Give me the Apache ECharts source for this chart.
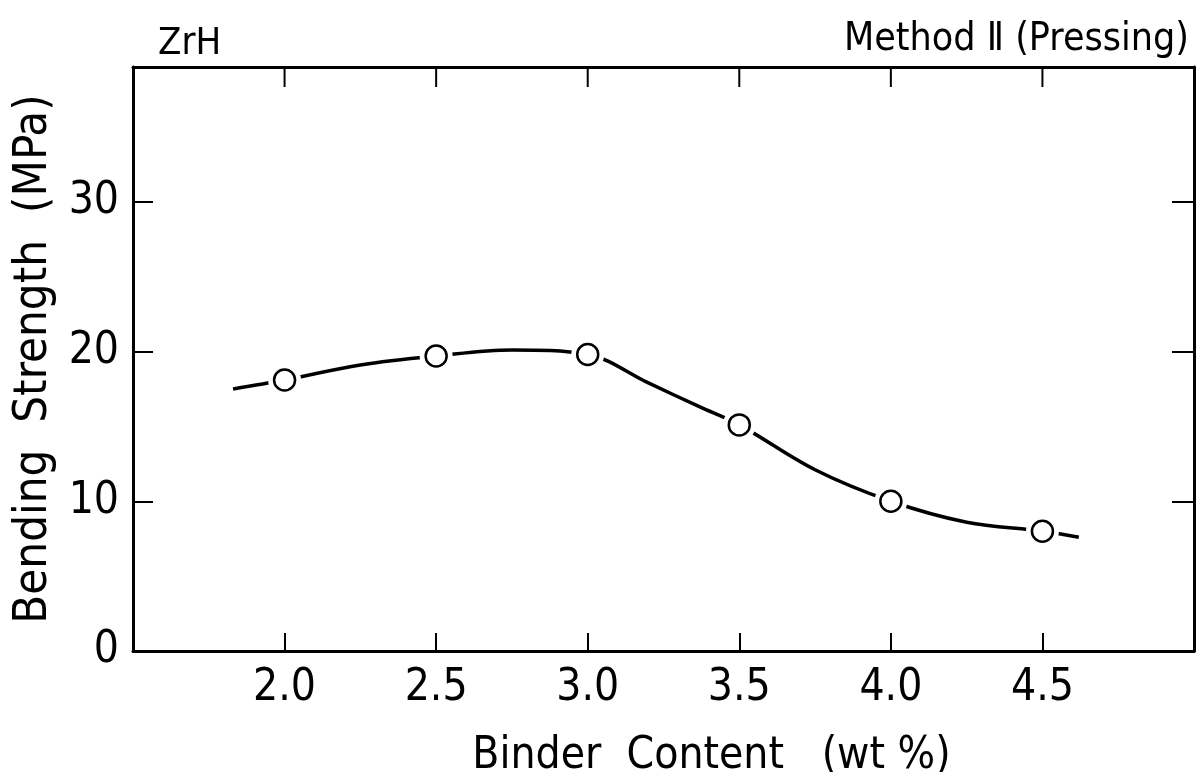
<!DOCTYPE html>
<html>
<head>
<meta charset="utf-8">
<style>
  html, body { margin: 0; padding: 0; background: #fff; }
  #main { width: 1198px; height: 772px; }
</style>
<script src="https://cdn.jsdelivr.net/npm/echarts@6/dist/echarts.min.js"></script>
</head>
<body>
<div id="main"></div>
<script>
var FONT = "'Liberation Sans Narrow', 'DejaVu Sans Condensed', sans-serif";

// measured points (binder content wt%, bending strength MPa)
var binder = [2.0, 2.5, 3.0, 3.5, 4.0, 4.5];
var strength = [18.1, 19.7, 19.8, 15.1, 10.0, 8.0];

// hand-drawn fitted curve
var curveX = [1.83, 2.0, 2.25, 2.5, 2.75, 3.0, 3.2, 3.37, 3.5, 3.75, 4.0, 4.25, 4.5, 4.62];
var curveY = [17.5, 18.1, 19.1, 19.7, 20.1, 19.8, 17.9, 16.3, 15.1, 12.1, 10.0, 8.6, 8.0, 7.6];

var xTicks = [2.0, 2.5, 3.0, 3.5, 4.0, 4.5];
var yLabels = [0, 10, 20, 30];
var yTicks = [10, 20, 30];

var Y_MAX = 39;

var chartDom = document.getElementById('main');
var myChart = echarts.init(chartDom);
var option;

var points = binder.map(function (x, i) { return [x, strength[i]]; });
var curve = curveX.map(function (x, i) { return [x, curveY[i]]; });
// tick positions along the top frame
var topTickPos = xTicks.map(function (x) { return [x, Y_MAX]; });

var axisLine = { show: true, onZero: false, lineStyle: { color: '#000', width: 3 } };

option = {
  backgroundColor: '#fff',
  animation: false,
  grid: { left: 133, right: 4, top: 67, bottom: 121, outerBoundsMode: 'none' },
  title: [
    {
      text: 'ZrH',
      left: 153,
      top: 20,
      textStyle: { fontFamily: FONT, fontSize: 38, fontWeight: 'normal', color: '#000' }
    },
    {
      text: 'Method Ⅱ (Pressing)',
      right: 4,
      top: 15,
      textStyle: { fontFamily: FONT, fontSize: 39, fontWeight: 'normal', color: '#000' }
    }
  ],
  xAxis: [
    {
      type: 'value',
      min: 1.5,
      max: 5.0,
      interval: 0.5,
      position: 'bottom',
      axisLine: axisLine,
      axisTick: { inside: true, length: 18, customValues: xTicks, lineStyle: { color: '#000', width: 2 } },
      splitLine: { show: false },
      axisLabel: {
        margin: 16,
        fontFamily: FONT,
        fontSize: 44,
        color: '#000',
        customValues: xTicks,
        formatter: function (v) { return v.toFixed(1); }
      },
      name: 'Binder  Content   (wt %)',
      nameLocation: 'middle',
      nameGap: 84,
      nameTextStyle: { fontFamily: FONT, fontSize: 44, color: '#000', padding: [0, 0, 0, 96] }
    },
    {
      type: 'value',
      min: 1.5,
      max: 5.0,
      interval: 0.5,
      position: 'top',
      axisLine: axisLine,
      axisTick: { show: false },
      axisLabel: { show: false },
      splitLine: { show: false }
    }
  ],
  yAxis: [
    {
      type: 'value',
      min: 0,
      max: Y_MAX,
      interval: 10,
      position: 'left',
      axisLine: axisLine,
      axisTick: { inside: true, length: 20, customValues: yTicks, lineStyle: { color: '#000', width: 2 } },
      splitLine: { show: false },
      axisLabel: { margin: 14, fontFamily: FONT, fontSize: 44, color: '#000', customValues: yLabels },
      name: 'Bending  Strength  (MPa)',
      nameLocation: 'middle',
      nameGap: 76,
      nameRotate: 90,
      nameTextStyle: { fontFamily: FONT, fontSize: 47, color: '#000' }
    },
    {
      type: 'value',
      min: 0,
      max: Y_MAX,
      interval: 10,
      position: 'right',
      axisLine: axisLine,
      axisTick: { inside: true, length: 22, customValues: yTicks, lineStyle: { color: '#000', width: 2 } },
      axisLabel: { show: false },
      splitLine: { show: false }
    }
  ],
  series: [
    {
      name: 'curve',
      type: 'line',
      data: curve,
      smooth: 0.35,
      showSymbol: false,
      lineStyle: { color: '#000', width: 3.5 },
      silent: true,
      z: 2
    },
    {
      // white halo that leaves a gap in the curve around each marker
      name: 'halo',
      type: 'scatter',
      data: points,
      symbol: 'circle',
      symbolSize: 33,
      itemStyle: { color: '#fff', opacity: 1 },
      silent: true,
      z: 3
    },
    {
      name: 'measured',
      type: 'scatter',
      data: points,
      symbol: 'circle',
      symbolSize: 21,
      itemStyle: { color: '#fff', borderColor: '#000', borderWidth: 2.5, opacity: 1 },
      z: 4
    },
    {
      // inward ticks hanging from the top frame
      name: 'topTicks',
      type: 'scatter',
      data: topTickPos,
      symbol: 'rect',
      symbolSize: [2, 20],
      symbolOffset: [0, 10],
      clip: false,
      silent: true,
      itemStyle: { color: '#000', opacity: 1 },
      z: 10
    }
  ]
};

option && myChart.setOption(option);
</script>
</body>
</html>
